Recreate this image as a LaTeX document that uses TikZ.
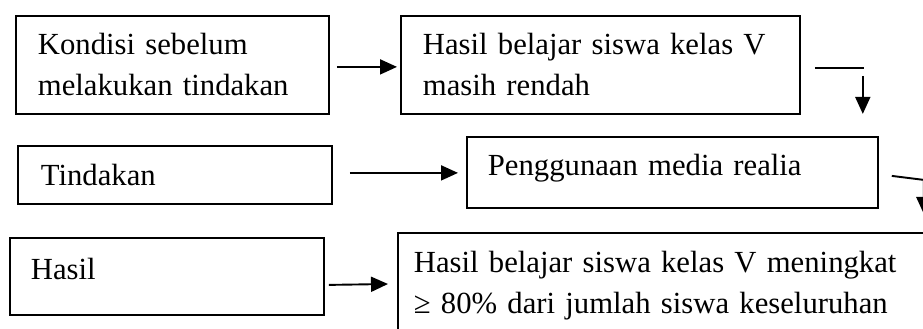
\documentclass[tikz,border=0pt]{standalone}
\usepackage{fontspec}
\setmainfont{Liberation Serif}
\usetikzlibrary{arrows.meta,calc}
\begin{document}
\begin{tikzpicture}[x=1pt,y=-1pt,
  box/.style={draw, line width=1.8pt, anchor=north west, align=left, inner ysep=0pt,
    font=\fontsize{30.7}{40.5}\selectfont},
  conn/.style={line width=1.9pt},
  arr/.style={conn,-{Triangle[length=17pt,width=15pt]}}]
\useasboundingbox (0,0) rectangle (923,329);
\clip (0,0) rectangle (923,329);
\node[box, inner xsep=22pt, text width=269pt, text height=39pt, text depth=59pt] (b1) at (15,15) {Kondisi sebelum\\melakukan tindakan};
\node[box, inner xsep=22pt, text width=355pt, text height=39pt, text depth=59pt] (b2) at (400,15) {Hasil belajar siswa kelas V\\masih rendah};
\node[box, inner xsep=23pt, text width=268pt, text height=40pt, text depth=18pt] (b3) at (17,145) {Tindakan};
\node[box, inner xsep=21pt, text width=369pt, text height=39pt, text depth=32pt] (b4) at (466,136) {Penggunaan media realia};
\node[box, inner xsep=21pt, text width=272pt, text height=42pt, text depth=35pt] (b5) at (9,237) {Hasil};
\node[box, inner xsep=16pt, text width=521pt, text height=40pt, text depth=78pt] (b6) at (397,232) {Hasil belajar siswa kelas V meningkat\\≥ 80\% dari jumlah siswa keseluruhan};
% connectors
\draw[arr] ($(b1.east)+(7,2)$) -- ($(b2.west)+(-3,2)$);
\coordinate (t1) at ($(b2.east)+(14,3)$);
\coordinate (t2) at ($(b2.east)+(63,3)$);
\coordinate (t3) at ($(b2.east)+(62,11)$);
\coordinate (t4) at ($(b2.east)+(62,49)$);
\draw[conn] (t1) -- (t2);
\draw[arr] (t3) -- (t4);
\draw[arr] ($(b3.east)+(17,-2)$) -- ($(b4.west)+(-8,0.5)$);
\coordinate (r1) at ($(b4.east)+(45,7.5)$);
\coordinate (r2) at ($(b4.east)+(45,41.5)$);
\draw[arr] ($(b4.east)+(13,3.5)$) -- (r1) -- (r2);
\draw[arr] ($(b5.east)+(4,8.5)$) -- ($(b6.north west)+(-9,52)$);
\end{tikzpicture}
\end{document}
